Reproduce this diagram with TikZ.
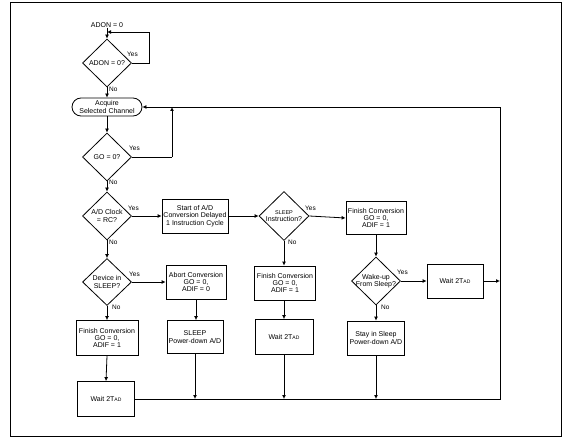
\documentclass[tikz,border=0pt]{standalone}
\usepackage{fontspec}
\setmainfont{Liberation Sans}
\usetikzlibrary{shapes.geometric,arrows.meta}
\newcommand\myTad{2T{\fontsize{5}{5}\selectfont AD}}
\begin{document}
\begin{tikzpicture}[x=1pt,y=-1pt,
  every node/.style={font=\fontsize{7}{7.2}\selectfont, align=center, inner sep=0pt},
  box/.style={draw, line width=0.8pt, rectangle},
  dia/.style={draw, diamond, line width=0.8pt, inner sep=0pt},
  lbl/.style={font=\fontsize{6.5}{6.5}\selectfont, anchor=west},
  arr/.style={-{Latex[length=4pt,width=4pt]}, line width=0.8pt},
  ln/.style={line width=0.8pt}]
\useasboundingbox (0,0) rectangle (568,441);
\draw[line width=1pt] (10,3) rectangle (561,436);

% nodes
\node (adon) at (107,25) {ADON = 0};
\node[dia, minimum width=49pt, minimum height=48pt] (d1) at (107,63) {};
\node (d1t) at (107,63) {ADON = 0?};
\node[box, rounded corners=9pt, minimum width=70pt, minimum height=18pt] (acq) at (107,107) {Acquire\\Selected Channel};
\node[dia, minimum width=49pt, minimum height=48pt] (go) at (107,157) {};
\node (got) at (107,157) {GO = 0?};
\node[dia, minimum width=49pt, minimum height=48pt] (clk) at (107,216) {};
\node (clkt) at (107,216) {A/D Clock\\= RC?};
\node[box, minimum width=66pt, minimum height=34pt] (start) at (195,216) {Start of A/D\\Conversion Delayed\\1 Instruction Cycle};
\node[dia, minimum width=50pt, minimum height=49pt] (slq) at (284,216) {};
\node (slqt) at (284,216) {{\fontsize{5.5}{5.5}\selectfont SLEEP}\\Instruction?};
\node[box, minimum width=60pt, minimum height=33pt] (fin1) at (376,218) {Finish Conversion\\GO = 0,\\ADIF = 1};
\node[dia, minimum width=49pt, minimum height=48pt] (wake) at (376,281) {};
\node (waket) at (376,281) {Wake-up\\From Sleep?};
\node[box, minimum width=56pt, minimum height=34pt] (wait1) at (455,281) {Wait \myTad};
\node[box, minimum width=57pt, minimum height=34pt] (stay) at (376,338) {Stay in Sleep\\Power-down A/D};
\node[box, minimum width=61pt, minimum height=34pt] (fin2) at (285,283) {Finish Conversion\\GO = 0,\\ADIF = 1};
\node[box, minimum width=58pt, minimum height=35pt] (wait2) at (284,337) {Wait \myTad};
\node[dia, minimum width=49pt, minimum height=47pt] (dev) at (107,282) {};
\node (devt) at (107,282) {Device in\\SLEEP?};
\node[box, minimum width=60pt, minimum height=34pt] (abort) at (196,282) {Abort Conversion\\GO = 0,\\ADIF = 0};
\node[box, minimum width=56pt, minimum height=33pt] (sleep) at (195,337) {SLEEP\\Power-down A/D};
\node[box, minimum width=62pt, minimum height=35pt] (fin3) at (107,338) {Finish Conversion\\GO = 0,\\ADIF = 1};
\node[box, minimum width=57pt, minimum height=35pt] (wait3) at (106,399) {Wait \myTad};

% labels
\node[lbl] (y1) at (127,54) {Yes};
\node[lbl] (n1) at (109,89) {No};
\node[lbl] (y2) at (129,148) {Yes};
\node[lbl] (n2) at (109,182) {No};
\node[lbl] (y3) at (128,208) {Yes};
\node[lbl] (n3) at (109,242) {No};
\node[lbl] (y4) at (305,208) {Yes};
\node[lbl] (n4) at (288,242) {No};
\node[lbl] (y5) at (397,272) {Yes};
\node[lbl] (n5) at (381,307) {No};
\node[lbl] (y6) at (129,274) {Yes};
\node[lbl] (n6) at (112,307) {No};

% coordinates
\coordinate (c1) at (149,63);
\coordinate (c2) at (149,32);
\coordinate (c3) at (107,32);
\coordinate (g1) at (172,157);
\coordinate (g2) at (g1 |- acq.east);
\coordinate (r1) at (500,399);
\coordinate (r2) at (r1 |- acq.east);
\coordinate (r3) at (500,281);

% connectors
\draw[arr] (adon) -- (d1.north);
\draw[ln] (d1.east) -- (c1) -- (c2);
\draw[arr] (c2) -- (c3);
\draw[arr] (d1.south) -- (acq.north);
\draw[arr] (acq.south) -- (go.north);
\draw[ln] (go.east) -- (g1);
\draw[arr] (g1) -- (g2);
\draw[arr] (go.south) -- (clk.north);
\draw[arr] (clk.east) -- (start.west);
\draw[arr] (clk.south) -- (dev.north);
\draw[arr] (start.east) -- (slq.west);
\draw[arr] (slq.east) -- (fin1.west);
\draw[arr] (slq.south) -- (fin2.north -| slq.south);
\draw[arr] (fin2.south -| wait2.north) -- (wait2.north);
\draw[arr] (fin1.south) -- (wake.north);
\draw[arr] (wake.east) -- (wait1.west);
\draw[arr] (wake.south) -- (stay.north);
\draw[arr] (wait1.east) -- (r3);
\draw[arr] (dev.east) -- (abort.west);
\draw[arr] (dev.south) -- (fin3.north);
\draw[arr] (abort.south) -- (abort.south |- sleep.north);
\draw[arr] (fin3.south) -- (wait3.north);
\draw[ln] (wait3.east) -- (r1) -- (r2);
\draw[arr] (r2) -- (acq.east);
\draw[arr] (sleep.south) -- (sleep.south |- r1);
\draw[arr] (wait2.south) -- (wait2.south |- r1);
\draw[arr] (stay.south) -- (stay.south |- r1);
\end{tikzpicture}
\end{document}
